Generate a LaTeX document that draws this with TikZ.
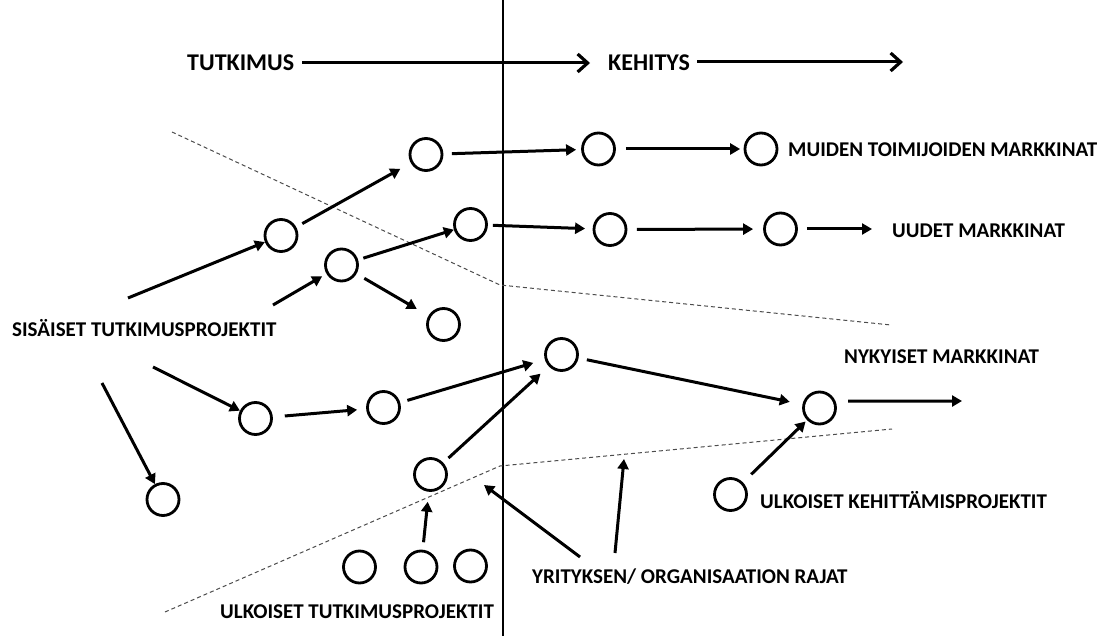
\documentclass[tikz,border=0pt]{standalone}
\usepackage{fontspec}
\setmainfont{Carlito}
\usetikzlibrary{arrows.meta}
\begin{document}
\begin{tikzpicture}[x=1pt,y=-1pt,
  proj/.style={circle,draw,line width=2.8pt,minimum size=32pt,inner sep=0pt},
  flow/.style={line width=3pt,-{Triangle[length=10pt,width=11pt]}},
  phase/.style={line width=3pt,-{Straight Barb[length=10pt,width=18pt,line width=3.2pt]}},
  lbl/.style={anchor=base west,inner sep=0pt,font=\bfseries\fontsize{21}{21}\selectfont},
  headlbl/.style={anchor=base west,inner sep=0pt,font=\bfseries\fontsize{24}{24}\selectfont},
  boundary/.style={draw=black!70,line width=1pt,dash pattern=on 4pt off 3pt}
]
\useasboundingbox (0,0) rectangle (1103,636);
\fill[white] (0,0) rectangle (1103,636);

% research / development divider
\coordinate (divtop) at (503,0);
\coordinate (divbot) at (503,636);
\draw[line width=2pt] (divtop) -- (divbot);

% organisation boundaries
\coordinate (ub1) at (172,132);
\coordinate (ub2) at (500,285);
\coordinate (ub3) at (891,325);
\draw[boundary] (ub1) -- (ub2) -- (ub3);
\coordinate (lb1) at (165,612);
\coordinate (lb2) at (500,466);
\coordinate (lb3) at (892,429);
\draw[boundary] (lb1) -- (lb2) -- (lb3);

% phase headings
\node[headlbl] (tut) at (187,71) {TUTKIMUS};
\node[headlbl] (keh) at (608,71) {KEHITYS};
\coordinate (tutA) at (302,63);
\coordinate (tutB) at (590,63);
\coordinate (kehA) at (697,62);
\coordinate (kehB) at (903,62);
\draw[phase] (tutA) -- (tutB);
\draw[phase] (kehA) -- (kehB);

% projects
\node[proj] (a1) at (426,154.5) {};
\node[proj] (a2) at (598.5,149) {};
\node[proj] (a3) at (761,149) {};
\node[proj] (c)  at (281,235.5) {};
\node[proj] (d)  at (341.5,265) {};
\node[proj] (b1) at (470.5,224.5) {};
\node[proj] (b2) at (610,229.5) {};
\node[proj] (b3) at (780.5,229) {};
\node[proj] (e)  at (443.5,324.5) {};
\node[proj] (f)  at (255.5,418.5) {};
\node[proj] (g)  at (383.5,407.5) {};
\node[proj] (h)  at (561.5,354.5) {};
\node[proj] (k)  at (819.5,408) {};
\node[proj] (i)  at (163,499.5) {};
\node[proj] (j)  at (430.5,474.5) {};
\node[proj] (l)  at (730.5,494.5) {};
\node[proj] (m1) at (359.5,567) {};
\node[proj] (m2) at (421,567) {};
\node[proj] (m3) at (470.5,566) {};

% labels
\node[lbl] (muiden) at (788,157) {MUIDEN TOIMIJOIDEN\ MARKKINAT};
\node[lbl] (uudet) at (892,238) {UUDET MARKKINAT};
\node[lbl] (sis) at (12,337) {SISÄISET TUTKIMUSPROJEKTIT};
\node[lbl] (nyk) at (844,363) {NYKYISET\ MARKKINAT};
\node[lbl] (ulkk) at (760,508) {ULKOISET KEHITTÄMISPROJEKTIT};
\node[lbl] (raj) at (532,583) {YRITYKSEN/ ORGANISAATION RAJAT};
\node[lbl] (ulkt) at (220,618) {ULKOISET TUTKIMUSPROJEKTIT};

% free ends
\coordinate (s1) at (128,298);
\coordinate (s2) at (273,305);
\coordinate (s3) at (153,367);
\coordinate (s4) at (102,383);
\coordinate (o1) at (872,229);
\coordinate (o2) at (962,401);
\coordinate (r1) at (580,557);
\coordinate (r1t) at (484,485);
\coordinate (r2) at (615,553);
\coordinate (r2t) at (624,459);

% project flows
\draw[flow,shorten <=8.5pt,shorten >=5pt] (a1) -- (a2);
\draw[flow,shorten <=10pt,shorten >=3.5pt] (a2) -- (a3);
\draw[flow,shorten <=7pt,shorten >=12pt] (c) -- (a1);
\draw[flow,shorten <=5.5pt] (d) -- (b1);
\draw[flow,shorten <=5pt,shorten >=7.5pt] (b1) -- (b2);
\draw[flow,shorten <=9.5pt,shorten >=10pt] (b2) -- (b3);
\draw[flow,shorten <=9pt] (b3) -- (o1);
\draw[flow,shorten <=9pt,shorten >=13.5pt] (d) -- (e);
\draw[flow,shorten <=12pt,shorten >=9pt] (f) -- (g);
\draw[flow,shorten <=7.5pt,shorten >=12pt] (g) -- (h);
\draw[flow,shorten <=7pt,shorten >=11pt] (j) -- (h);
\draw[flow,shorten <=8.5pt,shorten >=13pt] (h) -- (k);
\draw[flow,shorten <=12.5pt] (k.23) -- (o2);
\draw[flow,shorten <=11.5pt,shorten >=2pt] (l) -- (k);
\draw[flow,shorten <=7.5pt,shorten >=10pt] (m2) -- (j);
\draw[flow] (s1) -- (c);
\draw[flow,shorten >=5pt] (s2) -- (d);
\draw[flow] (s3) -- (f);
\draw[flow] (s4) -- (i);
\draw[flow] (r1) -- (r1t);
\draw[flow] (r2) -- (r2t);
\end{tikzpicture}
\end{document}
